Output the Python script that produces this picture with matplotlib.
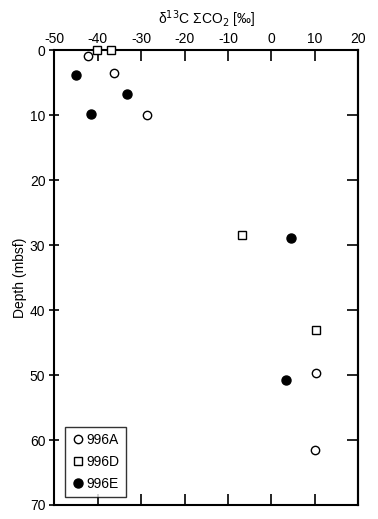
import matplotlib
matplotlib.use("Agg")
import matplotlib.pyplot as plt

plt.rcParams['font.family'] = ['Liberation Sans', 'DejaVu Sans']
plt.rcParams['axes.unicode_minus'] = False

a_x = [-42.3, -36.3, -28.7, 10.3, 10.0]
a_y = [0.9, 3.5, 10.0, 49.7, 61.5]
d_x = [-40.2, -37.0, -6.7, 10.3]
d_y = [0.0, 0.0, 28.4, 43.0]
e_x = [-45.0, -33.3, -41.6, 4.6, 3.3]
e_y = [3.8, 6.7, 9.8, 28.9, 50.8]

xticks = [-50, -40, -30, -20, -10, 0, 10, 20]
yticks = [0, 10, 20, 30, 40, 50, 60, 70]

fig = plt.figure(figsize=(3.78, 5.19), dpi=100)
ax = fig.add_axes([0.144, 0.027, 0.803, 0.876])

ax.plot(a_x, a_y, 'o', mfc='white', mec='black', mew=1.0, ms=6, label='996A', clip_on=False, zorder=3)
ax.plot(d_x, d_y, 's', mfc='white', mec='black', mew=1.0, ms=6, label='996D', clip_on=False, zorder=3)
ax.plot(e_x, e_y, 'o', mfc='black', mec='black', mew=1.0, ms=6.5, label='996E', clip_on=False, zorder=3)

ax.set_xlim(-50, 20)
ax.set_ylim(70, 0)
ax.set_xticks(xticks)
ax.set_yticks(yticks)
ax.xaxis.set_ticks_position('both')
ax.xaxis.set_label_position('top')
ax.tick_params(axis='x', which='major', direction='in', length=8, width=1.2,
               labeltop=True, labelbottom=False, labelsize=10, pad=3)

ax.tick_params(axis='y', which='major', left=True, right=False, direction='inout',
               length=7, width=1.2, labelsize=10, pad=3)
sec = ax.secondary_yaxis('right')
sec.set_yticks(yticks)
sec.tick_params(axis='y', direction='in', length=8, width=1.2, labelright=False)
for sp in list(ax.spines.values()) + list(sec.spines.values()):
    sp.set_linewidth(1.5)

ax.set_xlabel('δ$^{13}$C ΣCO$_2$ [‰]', fontsize=10, labelpad=6)
ax.set_ylabel('Depth (mbsf)', fontsize=10, labelpad=2)

leg = ax.legend(loc='lower left', bbox_to_anchor=(0.035, 0.018), frameon=True, fancybox=False,
                edgecolor='black', fontsize=10, handletextpad=0.1, borderpad=0.45,
                labelspacing=0.55, handlelength=1.0, borderaxespad=0.0)
leg.get_frame().set_linewidth(1.0)

fig.savefig('out.png', dpi=100)
